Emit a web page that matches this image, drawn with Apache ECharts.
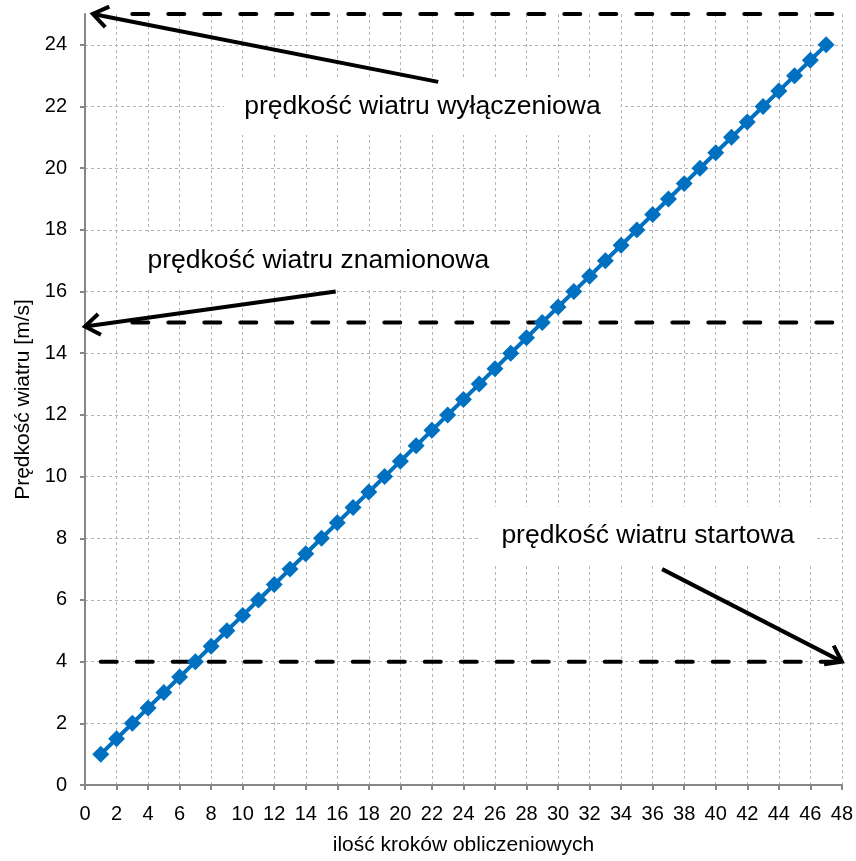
<!DOCTYPE html>
<html><head><meta charset="utf-8">
<script src="https://cdn.jsdelivr.net/npm/echarts@6/dist/echarts.min.js"></script>
<style>html,body{margin:0;padding:0;background:#fff}#c{width:856px;height:861px}</style>
</head><body><div id="c"></div>
<script>
// data
const steps = [1,2,3,4,5,6,7,8,9,10,11,12,13,14,15,16,17,18,19,20,21,22,23,24,25,26,27,28,29,30,31,32,33,34,35,36,37,38,39,40,41,42,43,44,45,46,47];
const speeds = [1,1.5,2,2.5,3,3.5,4,4.5,5,5.5,6,6.5,7,7.5,8,8.5,9,9.5,10,10.5,11,11.5,12,12.5,13,13.5,14,14.5,15,15.5,16,16.5,17,17.5,18,18.5,19,19.5,20,20.5,21,21.5,22,22.5,23,23.5,24];
const xTicks = [0,2,4,6,8,10,12,14,16,18,20,22,24,26,28,30,32,34,36,38,40,42,44,46,48];
const yTicks = [0,2,4,6,8,10,12,14,16,18,20,22,24];
const cutoffLine = [[3,25],[48,25]];
const ratedLine = [[3,15],[48,15]];
const startLine = [[1,4],[48,4]];
const labelTexts = ['prędkość wiatru wyłączeniowa','prędkość wiatru znamionowa','prędkość wiatru startowa'];
const labelPos = [[21.4,22],[14.8,17],[35.7,8.1]];
const arrows = [
  [[22.4,22.8],[0.5,25]],
  [[15.9,16],[0,14.87]],
  [[36.6,7],[48,4]]
];

const FONT = 'Liberation Sans, Arial, sans-serif';
const chart = echarts.init(document.getElementById('c'));
const dashed = {color:'#000', width:4, type:[16,20], cap:'round'};
chart.setOption({
  animation:false,
  backgroundColor:'#fff',
  grid:{left:85, right:13, top:14, bottom:57, containLabel:false},
  xAxis:{
    type:'value', min:0, max:48, interval:2,
    name:'ilość kroków obliczeniowych', nameLocation:'middle', nameGap:50,
    nameTextStyle:{fontFamily:FONT, fontSize:21, color:'#000'},
    axisLine:{show:true, lineStyle:{color:'#868686', width:2}},
    axisTick:{show:true, length:5, lineStyle:{color:'#868686', width:2}, customValues:xTicks},
    axisLabel:{fontFamily:FONT, fontSize:20, color:'#000', margin:19, customValues:xTicks},
    splitLine:{show:true, lineStyle:{color:'#b4b4b4', width:1, type:[3,3]}}
  },
  yAxis:{
    type:'value', min:0, max:25, interval:2,
    name:'Prędkość wiatru [m/s]', nameLocation:'middle', nameGap:51,
    nameTextStyle:{fontFamily:FONT, fontSize:21, color:'#000'},
    axisLine:{show:true, lineStyle:{color:'#868686', width:2}},
    axisTick:{show:true, length:5, lineStyle:{color:'#868686', width:2}, customValues:yTicks},
    axisLabel:{fontFamily:FONT, fontSize:20, color:'#000', margin:18, customValues:yTicks},
    splitLine:{show:true, lineStyle:{color:'#b4b4b4', width:1, type:[3,3]}}
  },
  series:[
    {type:'line', data:cutoffLine, symbol:'none', lineStyle:dashed, z:3, silent:true},
    {type:'line', data:ratedLine, symbol:'none', lineStyle:dashed, z:3, silent:true},
    {type:'line', data:startLine, symbol:'none', lineStyle:dashed, z:3, silent:true},
    {type:'line', data:steps.map((s,i)=>[s,speeds[i]]), symbol:'rect', symbolRotate:45, symbolSize:12,
     lineStyle:{color:'#0070C0', width:4}, itemStyle:{color:'#0070C0'}, z:4}
  ]
});

const g = [];
labelTexts.forEach((t,i)=>{
  const p = chart.convertToPixel({gridIndex:0}, labelPos[i]);
  g.push({type:'text', x:p[0], y:p[1], z:50, style:{text:t, font:'26.5px '+FONT, fill:'#000', align:'center', verticalAlign:'middle', backgroundColor:'#fff', padding:[15,20]}});
});
arrows.forEach(a=>{
  const p0 = chart.convertToPixel({gridIndex:0}, a[0]);
  const p1 = chart.convertToPixel({gridIndex:0}, a[1]);
  const ang = Math.atan2(p1[1]-p0[1], p1[0]-p0[0]);
  const L = 18, h = 0.62;
  const l = [p1[0]-L*Math.cos(ang-h), p1[1]-L*Math.sin(ang-h)];
  const r = [p1[0]-L*Math.cos(ang+h), p1[1]-L*Math.sin(ang+h)];
  g.push({type:'line', z:100, shape:{x1:p0[0],y1:p0[1],x2:p1[0],y2:p1[1]}, style:{stroke:'#000', lineWidth:4}});
  g.push({type:'polyline', z:100, shape:{points:[l,p1,r]}, style:{stroke:'#000', lineWidth:4, fill:null, lineJoin:'miter'}});
});
chart.setOption({graphic:g});
</script></body></html>
